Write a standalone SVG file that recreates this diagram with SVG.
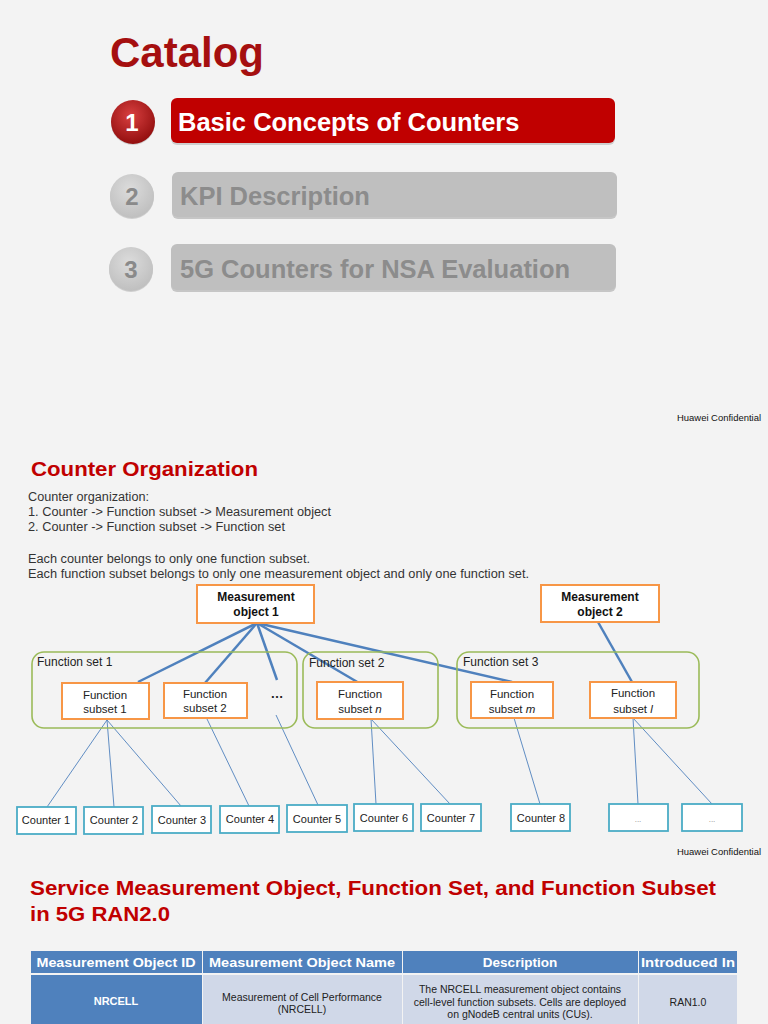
<svg xmlns="http://www.w3.org/2000/svg" width="768" height="1024" viewBox="0 0 768 1024">
<style>
text{font-family:"Liberation Sans",Arial,sans-serif}
.bar{font-size:25.5px;font-weight:bold}
.num{font-size:24px;font-weight:bold;text-anchor:middle}
.conf{font-size:9.5px;fill:#111}
.h2{font-size:21px;font-weight:bold;fill:#c00000}
.body{font-size:12.5px;fill:#333}
.mo{fill:#fff;stroke:#f79646;stroke-width:2}
.fs{fill:#fff;stroke:#f79646;stroke-width:2}
.set{fill:none;stroke:#9bbb59;stroke-width:1.6}
.ctr{fill:#fff;stroke:#4bacc6;stroke-width:1.8}
.bt{font-size:12px;font-weight:bold;fill:#111;text-anchor:middle}
.st{font-size:11.5px;fill:#222;text-anchor:middle}
.setl{font-size:12px;fill:#222}
.ct{font-size:11px;fill:#222;text-anchor:middle}
.thick{stroke:#4f81bd;stroke-width:2.5;fill:none}
.thin{stroke:#4f81bd;stroke-width:0.9;fill:none}
.th{font-size:13.5px;font-weight:bold;fill:#fff;text-anchor:middle}
.td{font-size:10.5px;fill:#222;text-anchor:middle}
</style>
<defs>
<radialGradient id="red" cx="0.45" cy="0.35" r="0.7">
<stop offset="0" stop-color="#d84040"/>
<stop offset="1" stop-color="#8e0b0b"/>
</radialGradient>
<radialGradient id="gray" cx="0.45" cy="0.35" r="0.7">
<stop offset="0" stop-color="#dcdcdc"/>
<stop offset="1" stop-color="#bdbdbd"/>
</radialGradient>
</defs>
<rect width="768" height="1024" fill="#f3f3f3"/>

<g id="catalog">
<text x="110" y="67" font-size="42" font-weight="bold" fill="#a50f0f">Catalog</text>
</g>
<g id="item1">
<rect x="171" y="99" width="444" height="46" rx="6" fill="#8a8a8a" opacity="0.35"/>
<rect x="171" y="98" width="444" height="45" rx="6" fill="#c00000"/>
<circle cx="133" cy="123" r="22" fill="#999" opacity="0.4"/>
<circle cx="133" cy="122" r="22" fill="url(#red)"/>
<text class="num" x="132" y="131" fill="#fff">1</text>
<text class="bar" x="178" y="131" fill="#fff">Basic Concepts of Counters</text>
</g>
<g id="item2">
<rect x="172" y="173" width="445" height="46" rx="6" fill="#9a9a9a" opacity="0.5"/>
<rect x="172" y="172" width="445" height="45" rx="6" fill="#bfbfbf"/>
<circle cx="132" cy="197" r="22" fill="#aaa" opacity="0.5"/>
<circle cx="132" cy="196" r="22" fill="url(#gray)"/>
<text class="num" x="132" y="205" fill="#8a8a8a">2</text>
<text class="bar" x="180" y="205" fill="#8c8c8c">KPI Description</text>
</g>
<g id="item3">
<rect x="171" y="245" width="445" height="47" rx="6" fill="#9a9a9a" opacity="0.5"/>
<rect x="171" y="244" width="445" height="46" rx="6" fill="#bfbfbf"/>
<circle cx="131" cy="270" r="22" fill="#aaa" opacity="0.5"/>
<circle cx="131" cy="269" r="22" fill="url(#gray)"/>
<text class="num" x="131" y="278" fill="#8a8a8a">3</text>
<text class="bar" x="180" y="278" fill="#8c8c8c">5G Counters for NSA Evaluation</text>
</g>
<text class="conf" x="677" y="421" textLength="84" lengthAdjust="spacingAndGlyphs">Huawei Confidential</text>

<text class="h2" x="31" y="476" textLength="227" lengthAdjust="spacingAndGlyphs">Counter Organization</text>
<g id="intro">
<text class="body" x="28" y="501" textLength="121" lengthAdjust="spacingAndGlyphs">Counter organization:</text>
<text class="body" x="28" y="516" textLength="303" lengthAdjust="spacingAndGlyphs">1. Counter -&gt; Function subset -&gt; Measurement object</text>
<text class="body" x="28" y="531" textLength="257" lengthAdjust="spacingAndGlyphs">2. Counter -&gt; Function subset -&gt; Function set</text>
<text class="body" x="28" y="563" textLength="282" lengthAdjust="spacingAndGlyphs">Each counter belongs to only one function subset.</text>
<text class="body" x="28" y="578" textLength="501" lengthAdjust="spacingAndGlyphs">Each function subset belongs to only one measurement object and only one function set.</text>
</g>

<g id="connectors">
<line class="thick" x1="257" y1="623" x2="138" y2="682"/>
<line class="thick" x1="257" y1="623" x2="205" y2="683"/>
<line class="thick" x1="257" y1="623" x2="277" y2="680"/>
<line class="thick" x1="257" y1="623" x2="359" y2="683"/>
<line class="thick" x1="257" y1="623" x2="512" y2="682"/>
<line class="thick" x1="598" y1="622" x2="632" y2="682"/>
<line class="thin" x1="107" y1="720" x2="47" y2="807"/>
<line class="thin" x1="107" y1="720" x2="114" y2="807"/>
<line class="thin" x1="107" y1="720" x2="181" y2="806"/>
<line class="thin" x1="207" y1="719" x2="249" y2="806"/>
<line class="thin" x1="276" y1="715" x2="318" y2="805"/>
<line class="thin" x1="371" y1="719" x2="376" y2="804"/>
<line class="thin" x1="371" y1="719" x2="450" y2="804"/>
<line class="thin" x1="514" y1="718" x2="540" y2="804"/>
<line class="thin" x1="633" y1="718" x2="638" y2="804"/>
<line class="thin" x1="633" y1="718" x2="712" y2="804"/>
</g>

<g id="set1"><rect class="set" x="32" y="652" width="265" height="76" rx="12"/><text class="setl" x="37" y="666">Function set 1</text></g>
<g id="set2"><rect class="set" x="303" y="652" width="135" height="76" rx="12"/><text class="setl" x="309" y="667">Function set 2</text></g>
<g id="set3"><rect class="set" x="457" y="652" width="242" height="76" rx="12"/><text class="setl" x="463" y="666">Function set 3</text></g>

<g id="mo1"><rect class="mo" x="197" y="585" width="117" height="38"/><text class="bt" x="256" y="601">Measurement</text><text class="bt" x="256" y="616">object 1</text></g>
<g id="mo2"><rect class="mo" x="541" y="585" width="118" height="37"/><text class="bt" x="600" y="601">Measurement</text><text class="bt" x="600" y="616">object 2</text></g>

<g id="fs1"><rect class="fs" x="62" y="683" width="87" height="36"/><text class="st" x="105" y="699">Function</text><text class="st" x="105" y="713">subset 1</text></g>
<g id="fs2"><rect class="fs" x="164" y="683" width="83" height="35"/><text class="st" x="205" y="698">Function</text><text class="st" x="205" y="712">subset 2</text></g>
<g id="dots"><text x="277" y="698" font-size="13" font-weight="bold" fill="#222" text-anchor="middle">…</text></g>
<g id="fsn"><rect class="fs" x="317" y="682" width="86" height="37"/><text class="st" x="360" y="698">Function</text><text class="st" x="360" y="713">subset <tspan font-style="italic">n</tspan></text></g>
<g id="fsm"><rect class="fs" x="471" y="682" width="82" height="36"/><text class="st" x="512" y="698">Function</text><text class="st" x="512" y="713">subset <tspan font-style="italic">m</tspan></text></g>
<g id="fsl"><rect class="fs" x="590" y="682" width="86" height="36"/><text class="st" x="633" y="697">Function</text><text class="st" x="633" y="713">subset <tspan font-style="italic">l</tspan></text></g>

<g id="c1"><rect class="ctr" x="17" y="807" width="59" height="27"/><text class="ct" x="46" y="824">Counter 1</text></g>
<g id="c2"><rect class="ctr" x="84" y="807" width="59" height="27"/><text class="ct" x="114" y="824">Counter 2</text></g>
<g id="c3"><rect class="ctr" x="152" y="806" width="59" height="27"/><text class="ct" x="182" y="824">Counter 3</text></g>
<g id="c4"><rect class="ctr" x="220" y="806" width="59" height="27"/><text class="ct" x="250" y="823">Counter 4</text></g>
<g id="c5"><rect class="ctr" x="287" y="805" width="60" height="27"/><text class="ct" x="317" y="823">Counter 5</text></g>
<g id="c6"><rect class="ctr" x="354" y="804" width="59" height="27"/><text class="ct" x="384" y="822">Counter 6</text></g>
<g id="c7"><rect class="ctr" x="421" y="804" width="60" height="27"/><text class="ct" x="451" y="822">Counter 7</text></g>
<g id="c8"><rect class="ctr" x="511" y="804" width="59" height="27"/><text class="ct" x="541" y="822">Counter 8</text></g>
<g id="c9"><rect class="ctr" x="609" y="804" width="59" height="27"/><text x="638" y="822" font-size="8" fill="#888" text-anchor="middle">...</text></g>
<g id="c10"><rect class="ctr" x="682" y="804" width="60" height="27"/><text x="712" y="822" font-size="8" fill="#888" text-anchor="middle">...</text></g>
<text class="conf" x="677" y="855" textLength="84" lengthAdjust="spacingAndGlyphs">Huawei Confidential</text>

<text class="h2" x="30" y="895" textLength="686" lengthAdjust="spacingAndGlyphs">Service Measurement Object, Function Set, and Function Subset</text>
<text class="h2" x="30" y="921" textLength="140" lengthAdjust="spacingAndGlyphs">in 5G RAN2.0</text>

<g id="table">
<rect x="31" y="951" width="171" height="22" fill="#4f81bd"/>
<rect x="203" y="951" width="199" height="22" fill="#4f81bd"/>
<rect x="403" y="951" width="235" height="22" fill="#4f81bd"/>
<rect x="639" y="951" width="98" height="22" fill="#4f81bd"/>
<text class="th" x="116" y="967" textLength="159" lengthAdjust="spacingAndGlyphs">Measurement Object ID</text>
<text class="th" x="302" y="967" textLength="186" lengthAdjust="spacingAndGlyphs">Measurement Object Name</text>
<text class="th" x="520" y="967">Description</text>
<text class="th" x="688" y="967" textLength="94" lengthAdjust="spacingAndGlyphs">Introduced In</text>
<rect x="31" y="975" width="171" height="49" fill="#4f81bd"/>
<rect x="203" y="975" width="199" height="49" fill="#d0d8e8"/>
<rect x="403" y="975" width="235" height="49" fill="#d0d8e8"/>
<rect x="639" y="975" width="98" height="49" fill="#d0d8e8"/>
<text x="116" y="1005" font-size="11" font-weight="bold" fill="#fff" text-anchor="middle">NRCELL</text>
<text class="td" x="302" y="1001">Measurement of Cell Performance</text>
<text class="td" x="302" y="1013">(NRCELL)</text>
<text class="td" x="520" y="993">The NRCELL measurement object contains</text>
<text class="td" x="520" y="1006">cell-level function subsets. Cells are deployed</text>
<text class="td" x="520" y="1018">on gNodeB central units (CUs).</text>
<text class="td" x="688" y="1006">RAN1.0</text>
</g>
</svg>
